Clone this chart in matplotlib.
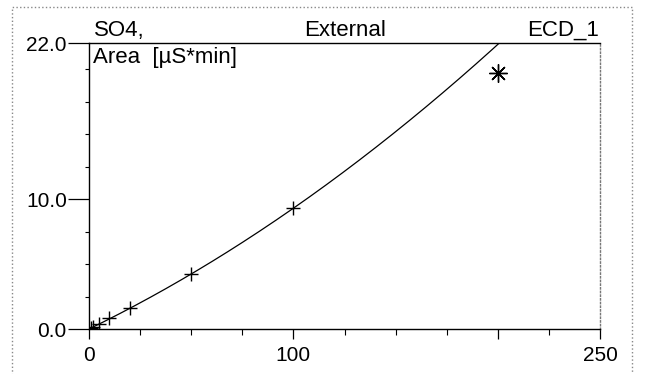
import numpy as np
import matplotlib.pyplot as plt
from matplotlib.patches import Rectangle

plt.rcParams['font.family'] = ['Liberation Sans', 'DejaVu Sans']

# calibration standards (amount vs. peak area)
amount = [1, 2, 5, 10, 20, 50, 100]
area = [0.08, 0.17, 0.40, 0.85, 1.60, 4.20, 9.30]
# standard left out of the fit
excl_amount = [200]
excl_area = [19.7]

y_ticks = [0, 10, 22]
y_ticklabels = ['0.0', '10.0', '22.0']
x_ticks = [0, 100, 200, 250]
x_ticklabels = ['0', '100', '', '250']

# quadratic calibration through the origin
A = np.column_stack([amount, np.square(amount)])
c1, c2 = np.linalg.lstsq(A, area, rcond=None)[0]
xf = np.linspace(0, 250, 400)
yf = c1 * xf + c2 * xf ** 2

fig = plt.figure(figsize=(6.47, 3.74), dpi=100)
ax = fig.add_axes([0.1376, 0.1203, 0.7898, 0.7647])

ax.plot(xf, yf, color='black', lw=0.9)
ax.plot(amount, area, ls='none', marker='+', ms=10, mew=1.0, color='black')
ax.plot(excl_amount, excl_area, ls='none', marker=(8, 2, 0), ms=13, mew=1.0, color='black')

ax.set_xlim(0, 250)
ax.set_ylim(0, 22)
ax.set_xticks(x_ticks)
ax.set_xticklabels(x_ticklabels)
ax.set_xticks(np.arange(25, 250, 25), minor=True)
ax.set_yticks(y_ticks)
ax.set_yticklabels(y_ticklabels)
ax.set_yticks(np.arange(2.5, 22, 2.5), minor=True)

ax.tick_params(axis='both', which='both', direction='out', labelsize=15, colors='black')
ax.tick_params(axis='y', which='major', length=15, width=0.9, pad=1)
ax.tick_params(axis='y', which='minor', length=3, width=0.8)
ax.tick_params(axis='x', which='major', length=7, width=0.9, pad=5)
ax.tick_params(axis='x', which='minor', length=4, width=0.8)

for s in ['left', 'bottom', 'top']:
    ax.spines[s].set_color('black')
    ax.spines[s].set_linewidth(1.0)
ax.spines['right'].set_color('#777777')
ax.spines['right'].set_linestyle(':')
ax.spines['right'].set_linewidth(1.0)

# header row above the plot
ax.text(0.010, 1.008, 'SO4,', transform=ax.transAxes, fontsize=16, ha='left', va='bottom')
ax.text(0.502, 1.008, 'External', transform=ax.transAxes, fontsize=16, ha='center', va='bottom')
ax.text(0.998, 1.008, 'ECD_1', transform=ax.transAxes, fontsize=16, ha='right', va='bottom')
ax.text(0.008, 0.985, 'Area  [µS*min]', transform=ax.transAxes, fontsize=16, ha='left', va='top')

# frame around the whole figure
fig.patches.append(Rectangle((12 / 647, -0.02), 620 / 647, 1 - 7 / 374 + 0.02,
                             transform=fig.transFigure, fill=False,
                             ec='#888888', lw=1.0, ls=':'))

fig.savefig('out.png', dpi=100)
